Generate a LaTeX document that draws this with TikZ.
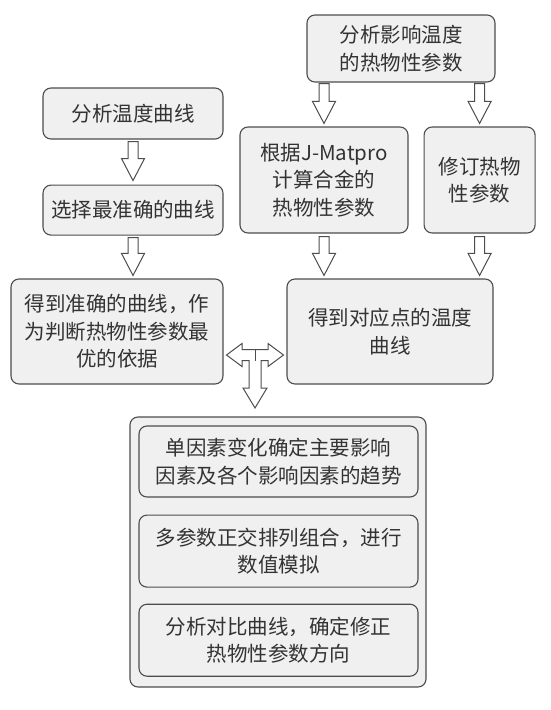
\documentclass[tikz,border=0pt]{standalone}
\usepackage{fontspec}
\setmainfont{Noto Sans CJK SC}
\usepackage{tikz}
\usetikzlibrary{positioning,calc}
\definecolor{figink}{HTML}{333333}
\definecolor{figrule}{HTML}{4D4D4D}
\definecolor{figfill}{HTML}{F0F0F0}
% hollow block arrow pointing down, x taken from the start point
\newcommand{\downarr}[2]{\draw[arr] let \p1=(#1), \p2=(#2) in
  (\x1-5pt,\y1) -- (\x1-5pt,\y2+22pt) -- (\x1-11.5pt,\y2+22pt) -- (\x1,\y2)
  -- (\x1+11.5pt,\y2+22pt) -- (\x1+5pt,\y2+22pt) -- (\x1+5pt,\y1) -- cycle;}

\begin{document}
\begin{tikzpicture}[x=1pt, y=-1pt, font=\fontsize{20.5}{27.5}\selectfont, text=figink,
  b/.style={draw=figrule, fill=figfill, line width=1.1pt, rounded corners=8pt, inner sep=0pt, align=center},
  outerbox/.style={b, line width=1.1pt},
  arr/.style={draw=figrule, fill=white, line width=1pt, line join=miter}]
  \useasboundingbox (0,0) rectangle (550,710);
  % left column
  \node[b, minimum width=180pt, minimum height=51pt] (curve) at (133,113.5) {分析温度曲线};
  \node[b, minimum width=180pt, minimum height=50pt, below=45pt of curve] (select) {选择最准确的曲线};
  \node[b, minimum width=212pt, minimum height=105pt] (result) at (117,331.5) {得到准确的曲线，作\\为判断热物性参数最\\优的依据};
  % right column
  \node[b, minimum width=188pt, minimum height=67pt] (param) at (401,48.5) {分析影响温度\\的热物性参数};
  \node[b, minimum width=168pt, minimum height=106pt] (jmat) at (324,180) {根据J-Matpro\\计算合金的\\热物性参数};
  \node[b, minimum width=111pt, minimum height=106pt, right=15pt of jmat] (revise) {修订热物\\性参数};
  \node[b, minimum width=206pt, minimum height=105pt] (point) at (390,331.5) {得到对应点的温度\\曲线};
  % bottom group
  \node[outerbox, minimum width=296pt, minimum height=270pt] (outer) at (278,552) {};
  \node[b, minimum width=279pt, minimum height=71pt] (s1) at (278.5,461.5) {单因素变化确定主要影响\\因素及各个影响因素的趋势};
  \node[b, minimum width=279pt, minimum height=72pt, below=17pt of s1] (s2) {多参数正交排列组合，进行\\数值模拟};
  \node[b, minimum width=279pt, minimum height=72pt, below=16pt of s2] (s3) {分析对比曲线，确定修正\\热物性参数方向};
  % block arrows
  \downarr{$(curve.south)+(0,2)$}{$(select.north)+(0,-4)$}
  \downarr{$(select.south)+(0,2)$}{$(result.north -| select.south)+(0,-3)$}
  \downarr{$(param.south -| jmat.north)+(0,1)$}{$(jmat.north)+(0,-3)$}
  \downarr{$(param.south -| revise.north)+(0,1)$}{$(revise.north)+(0,-3)$}
  \downarr{$(jmat.south)+(0,3)$}{$(point.north -| jmat.south)+(0,-3)$}
  \downarr{$(revise.south)+(0,3)$}{$(point.north -| revise.south)+(0,-3)$}
  % two-way arrow with a branch down to the group
  \coordinate (j) at ($($(result.east)!0.5!(point.west)$)+(0,23.5)$);
  \begin{scope}[shift={(j)}]
    \draw[arr] (-28.5,0) -- (-13,-11.5) -- (-13,-5.5) -- (13,-5.5) -- (13,-11.5) -- (28.5,0)
      -- (13,11.5) -- (13,5.5) -- (6,5.5) -- (6,33) -- (12,33) -- (0,53) -- (-12,33)
      -- (-6,33) -- (-6,5.5) -- (-13,5.5) -- (-13,11.5) -- cycle;
    \draw[figrule, line width=1pt] (0,-5.5) -- (0,5.5);
  \end{scope}
\end{tikzpicture}
\end{document}
